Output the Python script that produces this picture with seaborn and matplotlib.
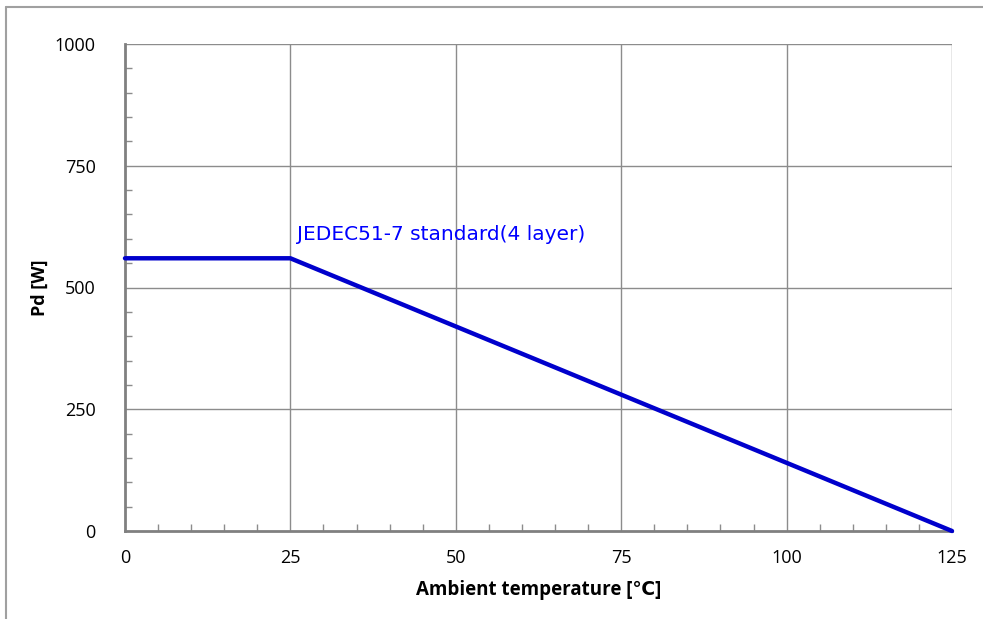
import matplotlib
matplotlib.use("Agg")
import matplotlib.pyplot as plt
import seaborn as sns
import pandas as pd
from matplotlib.ticker import MultipleLocator
from matplotlib.lines import Line2D

temperature = [0, 25, 125]
power = [560, 560, 0]
x_ticks = [0, 25, 50, 75, 100, 125]
y_ticks = [0, 250, 500, 750, 1000]
series_label = "JEDEC51-7 standard(4 layer)"

sns.set_theme(style="white")
plt.rcParams['font.family'] = ['Open Sans', 'DejaVu Sans']

df = pd.DataFrame({"temp": temperature, "pd": power})

fig = plt.figure(figsize=(9.83, 6.19), dpi=100)
ax = fig.add_axes([125/983, 1-531/619, (952-125)/983, (531-44)/619])

grid_c = "#8c8c8c"
for xv in x_ticks[1:]:
    ax.axvline(xv, color=grid_c, lw=1.0, zorder=1)
for yv in y_ticks[1:]:
    ax.axhline(yv, color=grid_c, lw=1.0, zorder=1)

sns.lineplot(data=df, x="temp", y="pd", ax=ax, color="#0000CC", lw=3.2,
             zorder=3, clip_on=False, sort=False)

ax.set_xlim(0, 125)
ax.set_ylim(0, 1000)
ax.set_xticks(x_ticks)
ax.set_yticks(y_ticks)
ax.xaxis.set_minor_locator(MultipleLocator(5))
ax.yaxis.set_minor_locator(MultipleLocator(50))
ax.tick_params(axis="both", which="major", length=0, labelsize=13, colors="black")
ax.tick_params(axis="x", which="major", pad=13)
ax.tick_params(axis="y", which="major", pad=21)
ax.tick_params(axis="both", which="minor", direction="in", length=5, width=1, color=grid_c)
ax.tick_params(axis="x", which="minor", bottom=True)
ax.tick_params(axis="y", which="minor", left=True)

for s in ["top", "right"]:
    ax.spines[s].set_visible(False)
for s in ["left", "bottom"]:
    ax.spines[s].set_color("#808080")
    ax.spines[s].set_linewidth(2)

ax.set_xlabel("Ambient temperature [℃]", fontsize=13.5, fontweight="bold", color="black")
ax.xaxis.set_label_coords(0.5, -(590 - 531) / 487, transform=ax.transAxes)
ax.xaxis.label.set_va("center")
ax.set_ylabel("Pd [W]", fontsize=13, fontweight="bold", color="black")
ax.yaxis.set_label_coords((40 - 125) / 827, 0.5)
ax.yaxis.label.set_va("center")

ax.text(26.0, 608, series_label, color="#0000FF", fontsize=14.5, ha="left", va="center",
        family=["DejaVu Sans"])

# outer chart-area frame
fig.add_artist(Line2D([6/983, 1], [1-7/619, 1-7/619], transform=fig.transFigure,
                      color="#a0a0a0", lw=1.5))
fig.add_artist(Line2D([6/983, 6/983], [0, 1-7/619], transform=fig.transFigure,
                      color="#a0a0a0", lw=1.5))

fig.savefig("out.png", dpi=100)
